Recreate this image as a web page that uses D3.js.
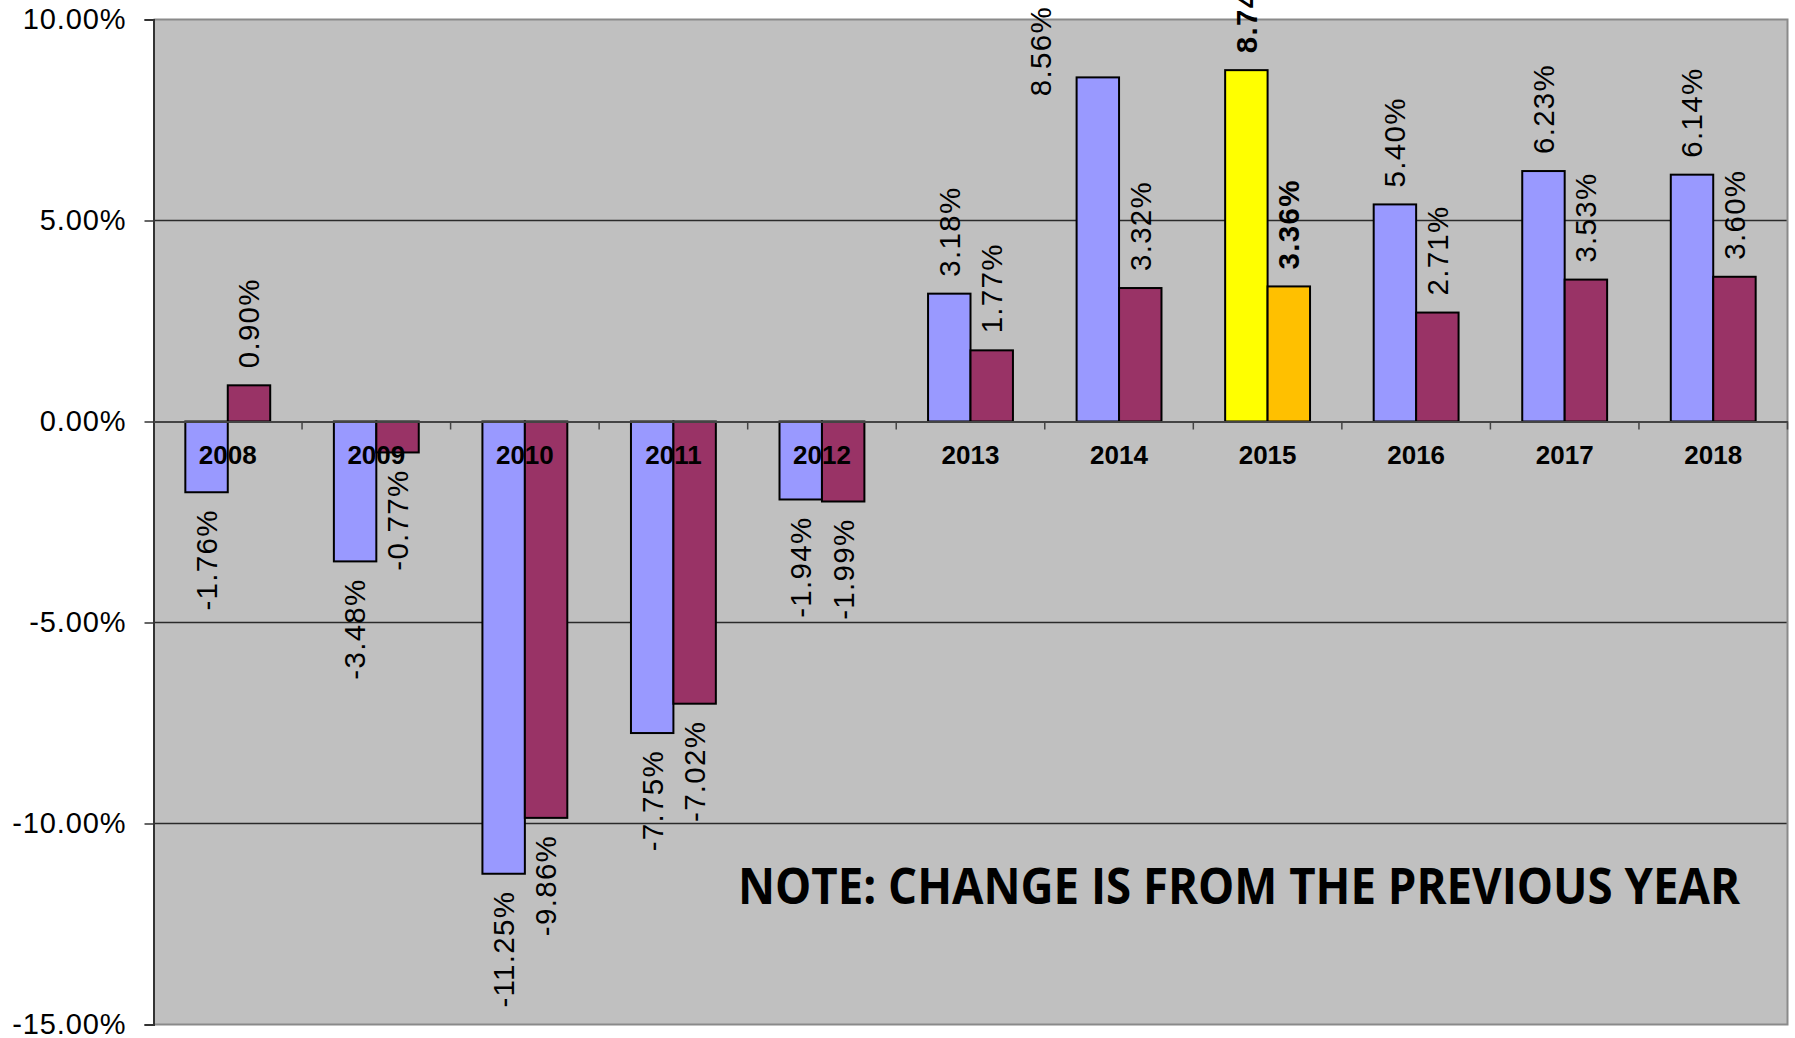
<!DOCTYPE html>
<html>
<head>
<meta charset="utf-8">
<script src="https://cdn.jsdelivr.net/npm/d3@7"></script>
<style>
  html, body { margin: 0; padding: 0; background: #fff; }
  svg { display: block; }
</style>
</head>
<body>
<script>
// Year-over-year change, two series per year
const years = ["2008","2009","2010","2011","2012","2013","2014","2015","2016","2017","2018"];
const seriesA = [-1.76, -3.48, -11.25, -7.75, -1.94, 3.18, 8.56, 8.74, 5.40, 6.23, 6.14];
const seriesB = [0.90, -0.77, -9.86, -7.02, -1.99, 1.77, 3.32, 3.36, 2.71, 3.53, 3.60];
const yTicks = [10, 5, 0, -5, -10, -15];
const highlightYear = "2015";
const noteText = "NOTE: CHANGE IS FROM THE PREVIOUS YEAR";

const W = 1795, H = 1038;
const plot = { left: 153.5, right: 1787.5, top: 19.5, bottom: 1024.5 };

const colors = {
  a: "#9999FF", b: "#993366",
  aHi: "#FFFF00", bHi: "#FFC000",
  bg: "#C0C0C0"
};

const svg = d3.select("body").append("svg")
  .attr("width", W).attr("height", H);

const x = d3.scaleBand().domain(years).range([plot.left, plot.right]).paddingInner(0).paddingOuter(0);
// Excel-style gap width of 150% between clusters
const barW = x.bandwidth() / 3.5;
const inner = d3.scaleBand().domain(["a", "b"]).range([0, 2 * barW]);
const y = d3.scaleLinear().domain([-15, 10]).range([plot.bottom, plot.top]);

// plot area
svg.append("rect")
  .attr("x", plot.left).attr("y", plot.top)
  .attr("width", plot.right - plot.left).attr("height", plot.bottom - plot.top)
  .attr("fill", colors.bg);

// gridlines
svg.append("g")
  .selectAll("line")
  .data(yTicks.filter(t => t !== 0 && t !== 10 && t !== -15))
  .join("line")
  .attr("x1", plot.left).attr("x2", plot.right)
  .attr("y1", d => y(d)).attr("y2", d => y(d))
  .attr("stroke", "#2a2a2a").attr("stroke-width", 1.4);

// frame (top, right, bottom)
const frame = svg.append("g").attr("stroke", "#8a8a8a").attr("stroke-width", 2).attr("fill", "none");
frame.append("path").attr("d", `M${plot.left},${plot.top}H${plot.right}V${plot.bottom}H${plot.left}`);

// rows of bar data
const rows = years.map((yr, i) => ({ year: yr, a: seriesA[i], b: seriesB[i] }));
const bars = [];
rows.forEach(r => {
  const hi = r.year === highlightYear;
  ["a", "b"].forEach(k => bars.push({
    year: r.year, key: k, value: r[k], hi,
    fill: hi ? colors[k + "Hi"] : colors[k]
  }));
});

const groupOffset = (x.bandwidth() - 2 * barW) / 2;
const barX = d => x(d.year) + groupOffset + inner(d.key);

svg.append("g")
  .selectAll("rect")
  .data(bars)
  .join("rect")
  .attr("x", barX)
  .attr("width", barW)
  .attr("y", d => y(Math.max(0, d.value)))
  .attr("height", d => Math.abs(y(d.value) - y(0)))
  .attr("fill", d => d.fill)
  .attr("stroke", "#000")
  .attr("stroke-width", 2);

// y axis
const yAxis = d3.axisLeft(y).tickValues(yTicks).tickSize(9).tickPadding(18)
  .tickFormat(d => d.toFixed(2) + "%");
const yg = svg.append("g").attr("transform", `translate(${plot.left},0)`).call(yAxis);
yg.select(".domain").attr("stroke", "#333").attr("stroke-width", 2);
yg.selectAll(".tick line").attr("stroke", "#333").attr("stroke-width", 1.5);
yg.selectAll(".tick text")
  .attr("font-family", "Liberation Sans, Arial, sans-serif")
  .attr("font-size", 29).attr("letter-spacing", 0.9).attr("fill", "#000");

// category axis along zero
const xAxis = d3.axisBottom(x).tickSize(0).tickPadding(24);
const xg = svg.append("g").attr("transform", `translate(0,${y(0)})`).call(xAxis);
xg.select(".domain").attr("stroke", "#444").attr("stroke-width", 2);
xg.selectAll(".tick text")
  .attr("font-family", "Liberation Sans, Arial, sans-serif")
  .attr("font-weight", "bold")
  .attr("font-size", 26).attr("fill", "#000");
// cluster boundary tick marks
xg.append("g").selectAll("line")
  .data(years.slice(1).concat(["end"]))
  .join("line")
  .attr("x1", d => d === "end" ? plot.right : x(d))
  .attr("x2", d => d === "end" ? plot.right : x(d))
  .attr("y1", 0).attr("y2", 8)
  .attr("stroke", "#444").attr("stroke-width", 1.5);

// value labels, rotated
const labelGap = 17;
const labels = svg.append("g")
  .attr("font-family", "Liberation Sans, Arial, sans-serif")
  .attr("font-size", 29.5).attr("letter-spacing", 1.3).attr("fill", "#000");

labels.selectAll("text")
  .data(bars)
  .join("text")
  .attr("font-weight", d => d.hi ? "bold" : "normal")
  .attr("text-anchor", d => d.value >= 0 ? "start" : "end")
  .attr("dy", "0.35em")
  .text(d => d.value.toFixed(2) + "%")
  .each(function (d) {
    const cx = barX(d) + barW / 2;
    const len = this.getComputedTextLength();
    let ty = d.value >= 0 ? y(d.value) - labelGap : y(d.value) + labelGap;
    let tx = cx;
    // a regular label that would run off the top moves beside its bar
    if (d.value >= 0 && !d.hi && ty - len < 0) {
      tx = cx - 57;
      ty = 6 + len;
    }
    d3.select(this).attr("transform", `translate(${tx},${ty}) rotate(-90)`);
  });

// note
svg.append("text")
  .attr("x", 738).attr("y", 904)
  .attr("font-family", "Open Sans, Liberation Sans, sans-serif")
  .attr("font-weight", "bold")
  .attr("font-size", 50)
  .attr("fill", "#000")
  .attr("textLength", 1002)
  .attr("lengthAdjust", "spacingAndGlyphs")
  .text(noteText);
</script>
</body>
</html>
